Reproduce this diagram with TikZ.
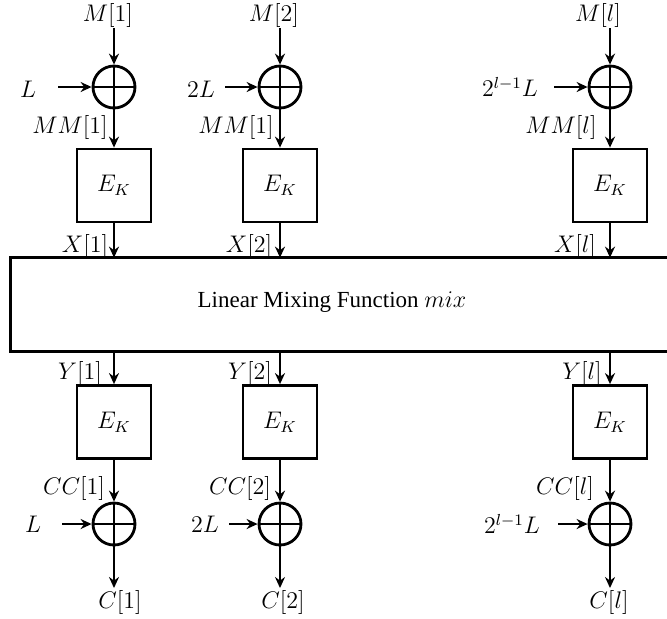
\documentclass[tikz,border=0pt]{standalone}
\usepackage[no-math]{fontspec}
\setmainfont{Liberation Serif}
\usetikzlibrary{arrows.meta,calc}
\begin{document}
\begin{tikzpicture}[x=0.5pt,y=-0.5pt,
  font=\fontsize{11.5}{14}\selectfont,
  line width=1.4pt,
  arr/.style={-{Stealth[length=5.5pt,width=5pt,inset=1.8pt]}},
  ekbox/.style={draw, minimum width=37pt, minimum height=36.5pt, inner sep=0pt},
  xorop/.style={draw, circle, minimum size=21pt, inner sep=0pt,
    path picture={\draw (path picture bounding box.north) -- (path picture bounding box.south)
                        (path picture bounding box.west) -- (path picture bounding box.east);}},
  lbl/.style={inner sep=0pt}]
\useasboundingbox (0,0) rectangle (667,618);

% ---------- mixing box ----------
\node[minimum width=327.5pt, minimum height=45.5pt, inner sep=0pt] (mix) at (339.5,304.5) {};
\draw (mix.north east) -- (mix.north west) -- (mix.south west) -- (mix.south east);
\node[lbl] (mixtext) at (332,302) {Linear Mixing Function $mix$};

% ---------- column 1 ----------
\node[lbl] (tm1) at (108,15) {$M[1]$};
\coordinate (s1) at (114,28);
\node[xorop] (xa1) at (114,87) {};
\draw[arr] (s1) -- (xa1);
\node[lbl] (tl1) at (28,89) {$L$};
\coordinate (ls1) at (58,87);
\draw[arr] (ls1) -- (xa1);
\node[lbl] (mm1) at (70,127) {$MM[1]$};
\node[ekbox] (e1) at (114,185.5) {$E_K$};
\draw[arr] (xa1) -- (e1);
\node[lbl] (x1) at (85,246) {$X[1]$};
\draw[arr] (e1) -- (e1 |- mix.north);
\node[lbl] (y1) at (80,373) {$Y[1]$};
\node[ekbox] (f1) at (114,422) {$E_K$};
\draw[arr] (mix.south -| f1) -- (f1);
\node[lbl] (cc1) at (74,488) {$CC[1]$};
\node[xorop] (xb1) at (114,524) {};
\draw[arr] (f1) -- (xb1);
\node[lbl] (bl1) at (33,524) {$L$};
\coordinate (lb1) at (62,524);
\draw[arr] (lb1) -- (xb1);
\coordinate (c1) at (114,588);
\draw[arr] (xb1) -- (c1);
\node[lbl] (tc1) at (120,602) {$C[1]$};

% ---------- column 2 ----------
\node[lbl] (tm2) at (274,15) {$M[2]$};
\coordinate (s2) at (280,28);
\node[xorop] (xa2) at (280,87) {};
\draw[arr] (s2) -- (xa2);
\node[lbl] (tl2) at (201,89) {$2L$};
\coordinate (ls2) at (225,87);
\draw[arr] (ls2) -- (xa2);
\node[lbl] (mm2) at (236,127) {$MM[1]$};
\node[ekbox] (e2) at (280,185.5) {$E_K$};
\draw[arr] (xa2) -- (e2);
\node[lbl] (x2) at (249,246) {$X[2]$};
\draw[arr] (e2) -- (e2 |- mix.north);
\node[lbl] (y2) at (250,373) {$Y[2]$};
\node[ekbox] (f2) at (280,422) {$E_K$};
\draw[arr] (mix.south -| f2) -- (f2);
\node[lbl] (cc2) at (240,488) {$CC[2]$};
\node[xorop] (xb2) at (280,524) {};
\draw[arr] (f2) -- (xb2);
\node[lbl] (bl2) at (205,524) {$2L$};
\coordinate (lb2) at (229,524);
\draw[arr] (lb2) -- (xb2);
\coordinate (c2) at (280,588);
\draw[arr] (xb2) -- (c2);
\node[lbl] (tc2) at (283,602) {$C[2]$};

% ---------- column l ----------
\node[lbl] (tm3) at (598,15) {$M[l]$};
\coordinate (s3) at (610,28);
\node[xorop] (xa3) at (610,87) {};
\draw[arr] (s3) -- (xa3);
\node[lbl] (tl3) at (510,87) {$2^{l-1}L$};
\coordinate (ls3) at (554,87);
\draw[arr] (ls3) -- (xa3);
\node[lbl] (mm3) at (561,127) {$MM[l]$};
\node[ekbox] (e3) at (610,185.5) {$E_K$};
\draw[arr] (xa3) -- (e3);
\node[lbl] (x3) at (575,246) {$X[l]$};
\draw[arr] (e3) -- (e3 |- mix.north);
\node[lbl] (y3) at (582,373) {$Y[l]$};
\node[ekbox] (f3) at (610,422) {$E_K$};
\draw[arr] (mix.south -| f3) -- (f3);
\node[lbl] (cc3) at (565,488) {$CC[l]$};
\node[xorop] (xb3) at (610,524) {};
\draw[arr] (f3) -- (xb3);
\node[lbl] (bl3) at (512,524) {$2^{l-1}L$};
\coordinate (lb3) at (558,524);
\draw[arr] (lb3) -- (xb3);
\coordinate (c3) at (610,588);
\draw[arr] (xb3) -- (c3);
\node[lbl] (tc3) at (609,602) {$C[l]$};
\end{tikzpicture}
\end{document}
